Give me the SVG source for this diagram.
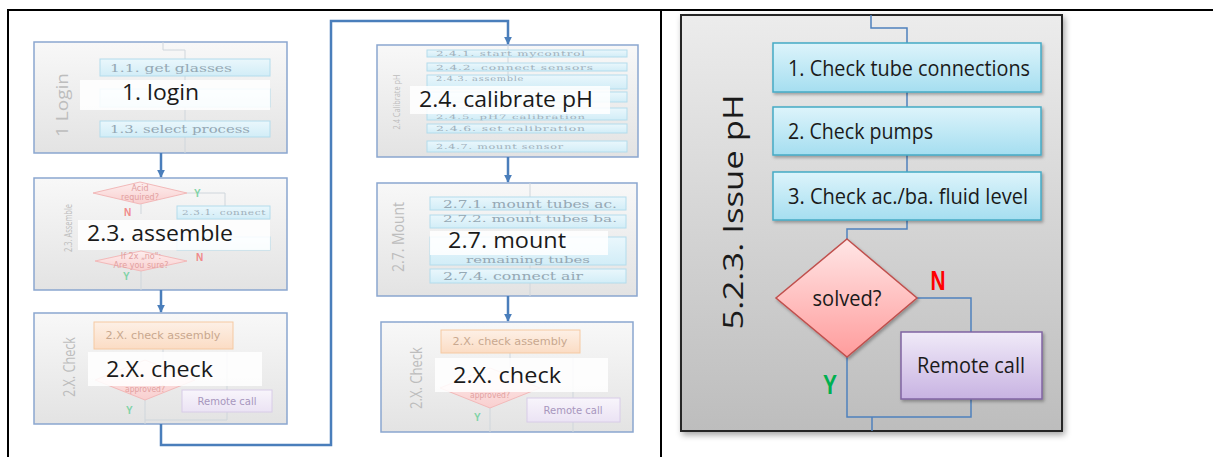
<svg xmlns="http://www.w3.org/2000/svg" width="1213" height="457" viewBox="0 0 1213 457">
  <defs>
    <style>
      .frame { stroke: #000; stroke-width: 2; fill: none; }
      .phase { fill: url(#phaseFill); stroke: #8aa6cf; stroke-width: 1.5; }
      .sub { fill: url(#subCyan); stroke: #b3dcec; stroke-width: 1; }
      .subTxt { font-family: "DejaVu Serif", "Liberation Serif", serif; font-size: 11px; fill: #95a8b4; }
      .tinyTxt { font-family: "DejaVu Serif", "Liberation Serif", serif; font-size: 8px; fill: #9fb0bb; letter-spacing: 0.5px; }
      .veil { fill: #ffffff; opacity: 0.86; }
      .big { font-family: "Open Sans", "Liberation Sans", sans-serif; font-size: 22px; fill: #1a1a1a; }
      .side { font-family: "Open Sans", "Liberation Sans", sans-serif; font-size: 17px; fill: #bdbdbd; }
      .faint { stroke: #cfd6dc; stroke-width: 1; fill: none; }
      .pale-dia { fill: url(#paleDia); stroke: #f2b9b9; stroke-width: 1; }
      .pale-or { fill: url(#paleOrange); stroke: #f5c9a2; stroke-width: 1; }
      .pale-pu { fill: url(#palePurple); stroke: #d8cce8; stroke-width: 1; }
      .orTxt { font-family: "DejaVu Sans", "Liberation Sans", sans-serif; font-size: 10px; fill: #c9a88f; }
      .puTxt { font-family: "DejaVu Sans", "Liberation Sans", sans-serif; font-size: 10px; fill: #a796bd; }
      .diaTxt { font-family: "DejaVu Sans", "Liberation Sans", sans-serif; font-size: 8px; fill: #e2a0a0; }
      .yes-s { font-family: "Liberation Sans", sans-serif; font-size: 10px; font-weight: bold; fill: #7fd3a6; }
      .no-s { font-family: "Liberation Sans", sans-serif; font-size: 10px; font-weight: bold; fill: #f08a8a; }
      .flow { stroke: #4a7ebb; stroke-width: 2.5; fill: none; }
      .link { stroke: #4f81bd; stroke-width: 1.5; fill: none; }
      .step { fill: url(#stepCyan); stroke: #46aac5; stroke-width: 1.5; }
      .stepTxt { font-family: "Open Sans", "Liberation Sans", sans-serif; font-size: 21px; fill: #1a1a1a; }
    </style>
    <linearGradient id="phaseFill" x1="0" y1="0" x2="0" y2="1">
      <stop offset="0" stop-color="#f8f8f8"/>
      <stop offset="1" stop-color="#e3e3e3"/>
    </linearGradient>
    <linearGradient id="subCyan" x1="0" y1="0" x2="0" y2="1">
      <stop offset="0" stop-color="#eaf7fc"/>
      <stop offset="1" stop-color="#d2edf7"/>
    </linearGradient>
    <linearGradient id="paleDia" x1="0" y1="0" x2="0" y2="1">
      <stop offset="0" stop-color="#fdeeee"/>
      <stop offset="1" stop-color="#f9cfcf"/>
    </linearGradient>
    <linearGradient id="paleOrange" x1="0" y1="0" x2="0" y2="1">
      <stop offset="0" stop-color="#fdf0e6"/>
      <stop offset="1" stop-color="#fbdcc4"/>
    </linearGradient>
    <linearGradient id="palePurple" x1="0" y1="0" x2="0" y2="1">
      <stop offset="0" stop-color="#f8f5fb"/>
      <stop offset="1" stop-color="#ebe3f4"/>
    </linearGradient>
    <linearGradient id="panelFill" x1="0" y1="0" x2="0" y2="1">
      <stop offset="0" stop-color="#ececec"/>
      <stop offset="1" stop-color="#bdbdbd"/>
    </linearGradient>
    <linearGradient id="stepCyan" x1="0" y1="0" x2="0" y2="1">
      <stop offset="0" stop-color="#ddf4fb"/>
      <stop offset="1" stop-color="#a5def0"/>
    </linearGradient>
    <linearGradient id="decisionFill" x1="0" y1="0" x2="0" y2="1">
      <stop offset="0" stop-color="#ffe6e6"/>
      <stop offset="1" stop-color="#ff9c9c"/>
    </linearGradient>
    <linearGradient id="remoteFill" x1="0" y1="0" x2="0" y2="1">
      <stop offset="0" stop-color="#f0eaf8"/>
      <stop offset="1" stop-color="#c8b3e2"/>
    </linearGradient>
    <filter id="panelShadow" x="-10%" y="-10%" width="125%" height="125%">
      <feDropShadow dx="2" dy="3" stdDeviation="3" flood-color="#000" flood-opacity="0.35"/>
    </filter>
    <filter id="boxShadow" x="-10%" y="-20%" width="125%" height="150%">
      <feDropShadow dx="1.5" dy="2" stdDeviation="1.5" flood-color="#000" flood-opacity="0.3"/>
    </filter>
    <marker id="arrow" viewBox="0 0 10 10" refX="9" refY="5" markerUnits="userSpaceOnUse" markerWidth="8" markerHeight="8" orient="auto">
      <path d="M0,0 L10,5 L0,10 z" fill="#4a7ebb"/>
    </marker>
  </defs>

  <!-- table grid -->
  <g id="table">
    <line class="frame" x1="7" y1="10" x2="1213" y2="10"/>
    <line class="frame" x1="8" y1="9" x2="8" y2="457"/>
    <line class="frame" x1="661" y1="9" x2="661" y2="457"/>
  </g>

  <!-- ===== left cell: process overview ===== -->
  <g id="node-login">
    <rect class="phase" x="34" y="42" width="253" height="111"/>
    <path class="faint" d="M163,42 V50 H185 V59 M185,76 V89 M185,107 V121 M185,137 V153"/>
    <rect class="sub" x="100" y="59" width="170" height="17"/>
    <text class="subTxt" x="110" y="72" textLength="122" lengthAdjust="spacingAndGlyphs">1.1. get glasses</text>
    <rect class="sub" x="100" y="89" width="170" height="18"/>
    <rect class="sub" x="100" y="121" width="170" height="16"/>
    <text class="subTxt" x="110" y="133" textLength="140" lengthAdjust="spacingAndGlyphs">1.3. select process</text>
    <rect class="veil" x="80" y="80" width="190" height="30"/>
    <text class="side" transform="translate(68,105) rotate(-90)" text-anchor="middle" textLength="64" lengthAdjust="spacingAndGlyphs">1 Login</text>
    <text class="big" x="122" y="100" textLength="77" lengthAdjust="spacingAndGlyphs">1. login</text>
  </g>

  <g id="node-assemble">
    <rect class="phase" x="34" y="178" width="253" height="112"/>
    <path class="faint" d="M187,193 H225 V206 M141,204 V214 M141,271 V290"/>
    <polygon class="pale-dia" points="140,182 187,193 140,204 93,193"/>
    <text class="diaTxt" x="140" y="191" text-anchor="middle">Acid</text>
    <text class="diaTxt" x="140" y="200" text-anchor="middle">required?</text>
    <text class="yes-s" x="194" y="197">Y</text>
    <text class="no-s" x="124" y="216">N</text>
    <rect class="sub" x="177" y="206" width="93" height="13"/>
    <text class="tinyTxt" x="182" y="215" textLength="84" lengthAdjust="spacingAndGlyphs">2.3.1. connect</text>
    <rect class="sub" x="177" y="237" width="93" height="13"/>
    <rect class="veil" x="78" y="220" width="192" height="30"/>
    <polygon class="pale-dia" points="141,251 187,261 141,271 95,261"/>
    <text class="diaTxt" x="141" y="259" text-anchor="middle">If 2x „no":</text>
    <text class="diaTxt" x="141" y="268" text-anchor="middle">Are you sure?</text>
    <text class="no-s" x="196" y="261">N</text>
    <text class="yes-s" x="123" y="280">Y</text>
    <text class="side" transform="translate(72,228) rotate(-90)" text-anchor="middle" style="font-size:11px" textLength="48" lengthAdjust="spacingAndGlyphs">2.3. Assemble</text>
    <text class="big" x="87" y="241" textLength="146" lengthAdjust="spacingAndGlyphs">2.3. assemble</text>
  </g>

  <g id="node-check-a">
    <rect class="phase" x="34" y="313" width="253" height="111"/>
    <path class="faint" d="M163,349 V360 M227,352 V390 M145,400 V424 M145,420 H227 V412"/>
    <rect class="pale-or" x="94" y="322" width="139" height="27"/>
    <text class="orTxt" x="163" y="339" text-anchor="middle" textLength="115" lengthAdjust="spacingAndGlyphs">2.X. check assembly</text>
    <polygon class="pale-dia" points="145,360 195,380 145,400 95,380"/>
    <text class="diaTxt" x="145" y="392" text-anchor="middle" style="font-size:9px" textLength="40" lengthAdjust="spacingAndGlyphs">approved?</text>
    <rect class="veil" x="88" y="352" width="174" height="34"/>
    <rect class="pale-pu" x="182" y="390" width="90" height="22"/>
    <text class="puTxt" x="227" y="405" text-anchor="middle">Remote call</text>
    <text class="yes-s" x="126" y="414">Y</text>
    <text class="side" transform="translate(75,367) rotate(-90)" text-anchor="middle" textLength="60" lengthAdjust="spacingAndGlyphs">2.X. Check</text>
    <text class="big" x="106" y="377" textLength="107" lengthAdjust="spacingAndGlyphs">2.X. check</text>
  </g>

  <g id="node-calibrate">
    <rect class="phase" x="377" y="45" width="261" height="112"/>
    <path class="faint" d="M508,45 V50 M508,57 V63 M508,71 V75"/>
    <rect class="sub" x="427" y="50" width="200" height="7"/>
    <text class="tinyTxt" x="436" y="56" style="font-size:7px" textLength="150" lengthAdjust="spacingAndGlyphs">2.4.1. start mycontrol</text>
    <rect class="sub" x="427" y="63" width="200" height="8"/>
    <text class="tinyTxt" x="436" y="69.5" style="font-size:7px" textLength="158" lengthAdjust="spacingAndGlyphs">2.4.2. connect sensors</text>
    <rect class="sub" x="427" y="75" width="200" height="14"/>
    <text class="tinyTxt" x="436" y="81" style="font-size:7px" textLength="88" lengthAdjust="spacingAndGlyphs">2.4.3. assemble</text>
    <rect class="sub" x="427" y="92" width="200" height="10"/>
    <rect class="sub" x="427" y="108" width="200" height="12"/>
    <text class="tinyTxt" x="436" y="119" style="font-size:6px" textLength="150" lengthAdjust="spacingAndGlyphs">2.4.5. pH7 calibration</text>
    <rect class="veil" x="410" y="86" width="200" height="28"/>
    <rect class="sub" x="427" y="124" width="200" height="9"/>
    <text class="tinyTxt" x="436" y="131" style="font-size:7px" textLength="150" lengthAdjust="spacingAndGlyphs">2.4.6. set calibration</text>
    <rect class="sub" x="427" y="141" width="200" height="11"/>
    <text class="tinyTxt" x="436" y="149" style="font-size:7px" textLength="128" lengthAdjust="spacingAndGlyphs">2.4.7. mount sensor</text>
    <text class="side" transform="translate(400,102) rotate(-90)" text-anchor="middle" style="font-size:9px" textLength="55" lengthAdjust="spacingAndGlyphs">2.4 Calibrate pH</text>
    <text class="big" x="419" y="107" textLength="174" lengthAdjust="spacingAndGlyphs">2.4. calibrate pH</text>
  </g>

  <g id="node-mount">
    <rect class="phase" x="377" y="183" width="260" height="113"/>
    <path class="faint" d="M530,183 V197 M530,210 V215 M530,265 V269 M530,283 V296"/>
    <rect class="sub" x="430" y="197" width="196" height="13"/>
    <text class="subTxt" x="443" y="207.5" textLength="174" lengthAdjust="spacingAndGlyphs">2.7.1. mount tubes ac.</text>
    <rect class="sub" x="430" y="215" width="196" height="13"/>
    <text class="subTxt" x="443" y="222" style="font-size:9px" textLength="174" lengthAdjust="spacingAndGlyphs">2.7.2. mount tubes ba.</text>
    <rect class="sub" x="430" y="237" width="196" height="28"/>
    <text class="subTxt" x="466" y="263" style="font-size:9.5px" textLength="124" lengthAdjust="spacingAndGlyphs">remaining tubes</text>
    <rect class="veil" x="430" y="231" width="178" height="24"/>
    <rect class="sub" x="430" y="269" width="196" height="14"/>
    <text class="subTxt" x="443" y="280" textLength="140" lengthAdjust="spacingAndGlyphs">2.7.4. connect air</text>
    <text class="side" transform="translate(404,237) rotate(-90)" text-anchor="middle" textLength="70" lengthAdjust="spacingAndGlyphs">2.7. Mount</text>
    <text class="big" x="448" y="248" textLength="118" lengthAdjust="spacingAndGlyphs">2.7. mount</text>
  </g>

  <g id="node-check-b">
    <rect class="phase" x="381" y="322" width="252" height="110"/>
    <path class="faint" d="M510,353 V368 M573,358 V398 M490,408 V432 M573,422 V432"/>
    <rect class="pale-or" x="441" y="330" width="139" height="23"/>
    <text class="orTxt" x="510" y="345" text-anchor="middle" textLength="115" lengthAdjust="spacingAndGlyphs">2.X. check assembly</text>
    <polygon class="pale-dia" points="490,368 540,388 490,408 440,388"/>
    <text class="diaTxt" x="490" y="398" text-anchor="middle" style="font-size:9px" textLength="40" lengthAdjust="spacingAndGlyphs">approved?</text>
    <rect class="veil" x="435" y="358" width="173" height="34"/>
    <rect class="pale-pu" x="527" y="398" width="93" height="24"/>
    <text class="puTxt" x="573" y="414" text-anchor="middle">Remote call</text>
    <text class="yes-s" x="474" y="421">Y</text>
    <text class="side" transform="translate(422,378) rotate(-90)" text-anchor="middle" textLength="62" lengthAdjust="spacingAndGlyphs">2.X. Check</text>
    <text class="big" x="453" y="383" textLength="108" lengthAdjust="spacingAndGlyphs">2.X. check</text>
  </g>

  <g id="connectors-overview">
    <path class="flow" d="M161,153 V177" marker-end="url(#arrow)"/>
    <path class="flow" d="M161,290 V312" marker-end="url(#arrow)"/>
    <path class="flow" d="M161,424 V445 H331 V21 H508 V44" marker-end="url(#arrow)"/>
    <path class="flow" d="M508,157 V182" marker-end="url(#arrow)"/>
    <path class="flow" d="M508,296 V321" marker-end="url(#arrow)"/>
  </g>

  <!-- ===== right cell: pH issue procedure ===== -->
  <g id="panel-issue-ph">
    <rect x="681" y="15" width="381" height="416" fill="url(#panelFill)" stroke="#262626" stroke-width="2" filter="url(#panelShadow)"/>
    <text transform="translate(743,212) rotate(-90)" text-anchor="middle" font-family="Open Sans, Liberation Sans, sans-serif" font-size="28" fill="#1a1a1a" textLength="235" lengthAdjust="spacingAndGlyphs">5.2.3. Issue pH</text>
  </g>

  <g id="connectors-issue">
    <path class="link" d="M871,15 V28 H907 V43"/>
    <path class="link" d="M907,92 V107"/>
    <path class="link" d="M907,155 V172"/>
    <path class="link" d="M907,220 V229 H847 V239"/>
    <path class="link" d="M917,298 H971 V332"/>
    <path class="link" d="M847,357 V417 H971 V399"/>
    <path class="link" d="M872,417 V431"/>
    <text x="938" y="290" text-anchor="middle" font-family="Liberation Sans, sans-serif" font-weight="bold" font-size="27" fill="#ff0000" textLength="15" lengthAdjust="spacingAndGlyphs">N</text>
    <text x="830" y="394" text-anchor="middle" font-family="Liberation Sans, sans-serif" font-weight="bold" font-size="27" fill="#00b050" textLength="14" lengthAdjust="spacingAndGlyphs">Y</text>
  </g>

  <g id="step-tubes">
    <rect class="step" x="773" y="43" width="268" height="49" filter="url(#boxShadow)"/>
    <text class="stepTxt" x="788" y="76" textLength="242" lengthAdjust="spacingAndGlyphs">1. Check tube connections</text>
  </g>
  <g id="step-pumps">
    <rect class="step" x="773" y="107" width="268" height="48" filter="url(#boxShadow)"/>
    <text class="stepTxt" x="788" y="139" textLength="145" lengthAdjust="spacingAndGlyphs">2. Check pumps</text>
  </g>
  <g id="step-fluid">
    <rect class="step" x="773" y="172" width="268" height="48" filter="url(#boxShadow)"/>
    <text class="stepTxt" x="788" y="204" textLength="240" lengthAdjust="spacingAndGlyphs">3. Check ac./ba. fluid level</text>
  </g>
  <g id="decision-solved">
    <polygon points="847,239 917,298 847,357 776,298" fill="url(#decisionFill)" stroke="#c0504d" stroke-width="1.5" filter="url(#boxShadow)"/>
    <text class="stepTxt" x="847" y="306" text-anchor="middle" textLength="69" lengthAdjust="spacingAndGlyphs">solved?</text>
  </g>
  <g id="step-remote">
    <rect x="901" y="332" width="141" height="67" fill="url(#remoteFill)" stroke="#8064a2" stroke-width="1.5" filter="url(#boxShadow)"/>
    <text class="stepTxt" x="971" y="373" text-anchor="middle" style="font-size:22px" textLength="108" lengthAdjust="spacingAndGlyphs">Remote call</text>
  </g>
</svg>
